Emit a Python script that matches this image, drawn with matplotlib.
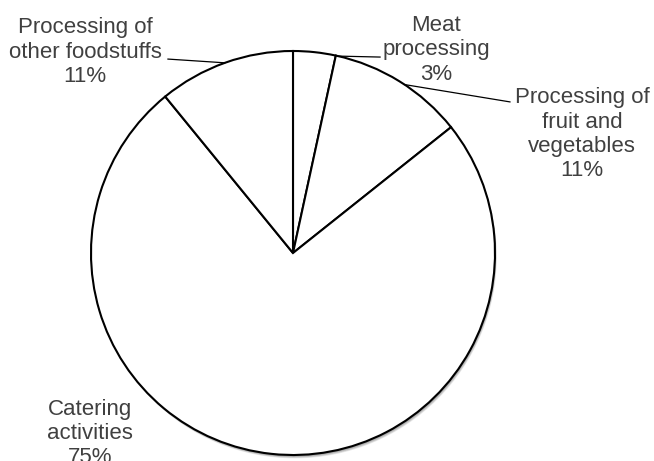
import numpy as np
import matplotlib
matplotlib.use('Agg')
import matplotlib.pyplot as plt
from matplotlib.patches import Circle

# dados (fatias no sentido horario, a partir do topo)
categorias = ['Meat\nprocessing', 'Processing of\nfruit and\nvegetables',
              'Catering\nactivities', 'Processing of\nother foodstuffs']
valores = [3.4, 10.9, 74.8, 10.9]

# posicao dos rotulos (unidades do raio) e ponto de ligacao das linhas guia
pos_rotulos = [(0.708, 1.005), (1.431, 0.589), (-1.005, -0.895), (-1.030, 0.995)]
# (angulo no circulo em graus, horario a partir do topo; ponta junto ao texto)
guias = [(12.9, (0.431, 0.970)), (33.5, (1.074, 0.748)), None, (-19.7, (-0.619, 0.960))]

plt.rcParams['font.family'] = ['Liberation Sans', 'DejaVu Sans']

fig = plt.figure(figsize=(6.54, 4.61), dpi=100)
ax = fig.add_axes([0, 0, 1, 1])

# escala: centro em (293, 253) px, raio 202 px
cx, cy, r = 293, 253, 202

# sombra embaixo/direita do circulo
for i in range(6):
    ax.add_patch(Circle((0.003 + i * 0.0012, -0.006 - i * 0.0022), 1.0,
                        facecolor='black', edgecolor='none', alpha=0.07, zorder=0))

ax.pie(valores, startangle=90, counterclock=False, radius=1.0,
       colors=['white'] * len(valores),
       wedgeprops=dict(edgecolor='black', linewidth=1.5),
       frame=True)
ax.set_xlim((0 - cx) / r, (654 - cx) / r)
ax.set_ylim((cy - 461) / r, cy / r)
ax.set_aspect('auto')
ax.axis('off')

total = sum(valores)
for nome, v, pos in zip(categorias, valores, pos_rotulos):
    ax.text(pos[0], pos[1], '%s\n%d%%' % (nome, round(v / total * 100)),
            ha='center', va='center', fontsize=16, color='#404040',
            linespacing=1.19)

for g in guias:
    if g is None:
        continue
    ang, fim = g
    th = np.deg2rad(90 - ang)
    ax.plot([np.cos(th), fim[0]], [np.sin(th), fim[1]], color='black', lw=0.9)

plt.savefig('out.png', dpi=100)
